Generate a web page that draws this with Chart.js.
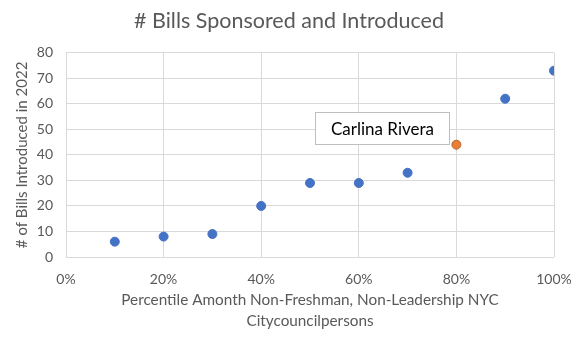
<!DOCTYPE html>
<html>
<head>
<meta charset="utf-8">
<script src="https://cdn.jsdelivr.net/npm/chart.js@4.4.1/dist/chart.umd.min.js"></script>
<style>
  html, body { margin: 0; padding: 0; background: #fff; }
  #wrap { width: 588px; height: 346px; }
</style>
</head>
<body>
<div id="wrap"><canvas id="chart" width="588" height="346"></canvas></div>
<script>
// percentile rank of each council member and bills introduced in 2022
const percentiles = [0.1, 0.2, 0.3, 0.4, 0.5, 0.6, 0.7, 0.8, 0.9, 1.0];
const billsIntroduced = [6, 8, 9, 20, 29, 29, 33, 44, 62, 73];
const highlightIndex = 7;
const highlightName = 'Carlina Rivera';

const FONT = 'Lato, "Open Sans", sans-serif';
const GREY = '#595959';

var points = percentiles.map((p, i) => ({ x: p, y: billsIntroduced[i] }));
var fills = percentiles.map((p, i) => i === highlightIndex ? '#ED7D31' : '#4472C4');
var rims = percentiles.map((p, i) => i === highlightIndex ? '#B0683A' : '#4472C4');

// callout box next to the highlighted point
const calloutBox = {
  id: 'calloutBox',
  afterDatasetsDraw(chart) {
    const ctx = chart.ctx;
    const xs = chart.scales.x, ys = chart.scales.y;
    const px = xs.getPixelForValue(percentiles[highlightIndex]);
    const py = ys.getPixelForValue(billsIntroduced[highlightIndex]);
    const w = 134, h = 32;
    const left = Math.round(px - w - 7) + 0.5;
    const top = Math.round(py - h - 1) + 0.5;
    ctx.save();
    ctx.fillStyle = '#fff';
    ctx.strokeStyle = '#bfbfbf';
    ctx.lineWidth = 1;
    ctx.fillRect(left, top, w, h);
    ctx.strokeRect(left, top, w, h);
    ctx.fillStyle = '#000';
    ctx.font = '17px ' + FONT;
    ctx.textAlign = 'center';
    ctx.textBaseline = 'middle';
    ctx.fillText(highlightName, left + w / 2, top + h / 2 + 1);
    ctx.restore();
  }
};

var chart = new Chart(document.getElementById('chart'), {
  type: 'scatter',
  data: {
    datasets: [{
      data: points,
      backgroundColor: fills,
      borderColor: rims,
      pointRadius: 4.5,
      pointHoverRadius: 4.5,
      borderWidth: 1
    }]
  },
  options: {
    responsive: false,
    animation: false,
    layout: { padding: { left: 0, right: 10, top: 0, bottom: 0 } },
    plugins: {
      legend: { display: false },
      tooltip: { enabled: false },
      title: {
        display: true,
        text: '# Bills Sponsored and Introduced',
        color: GREY,
        font: { family: FONT, size: 21.5, weight: 'normal', lineHeight: 1.2 },
        padding: { top: 8, bottom: 19 }
      }
    },
    scales: {
      x: {
        type: 'linear',
        min: 0,
        max: 1,
        ticks: {
          stepSize: 0.2,
          color: GREY,
          padding: 14,
          font: { family: FONT, size: 14 },
          callback: v => Math.round(v * 100) + '%'
        },
        grid: { color: '#d9d9d9', drawTicks: false },
        border: { display: false },
        title: {
          display: true,
          text: ['Percentile Amonth Non-Freshman, Non-Leadership NYC', 'Citycouncilpersons'],
          color: GREY,
          font: { family: FONT, size: 15.3, lineHeight: 1.37 },
          padding: { top: 0, bottom: 14 }
        },
        afterFit: s => { s.height = 89; }
      },
      y: {
        min: 0,
        max: 80,
        ticks: {
          stepSize: 10,
          color: GREY,
          padding: 13,
          font: { family: FONT, size: 14 }
        },
        grid: { color: '#d9d9d9', drawTicks: false },
        border: { display: false },
        title: {
          display: true,
          text: '# of Bills Introduced in 2022',
          color: GREY,
          font: { family: FONT, size: 15, lineHeight: 1.2 },
          padding: { top: 13, bottom: 0 }
        },
        afterFit: s => { s.width = 66; }
      },
      // empty right-hand axis keeps the plot's right margin
      side: {
        type: 'linear',
        position: 'right',
        display: true,
        ticks: { display: false },
        grid: { display: false },
        border: { display: false },
        afterFit: s => { s.width = 24; }
      }
    }
  },
  plugins: [calloutBox]
});
</script>
</body>
</html>
